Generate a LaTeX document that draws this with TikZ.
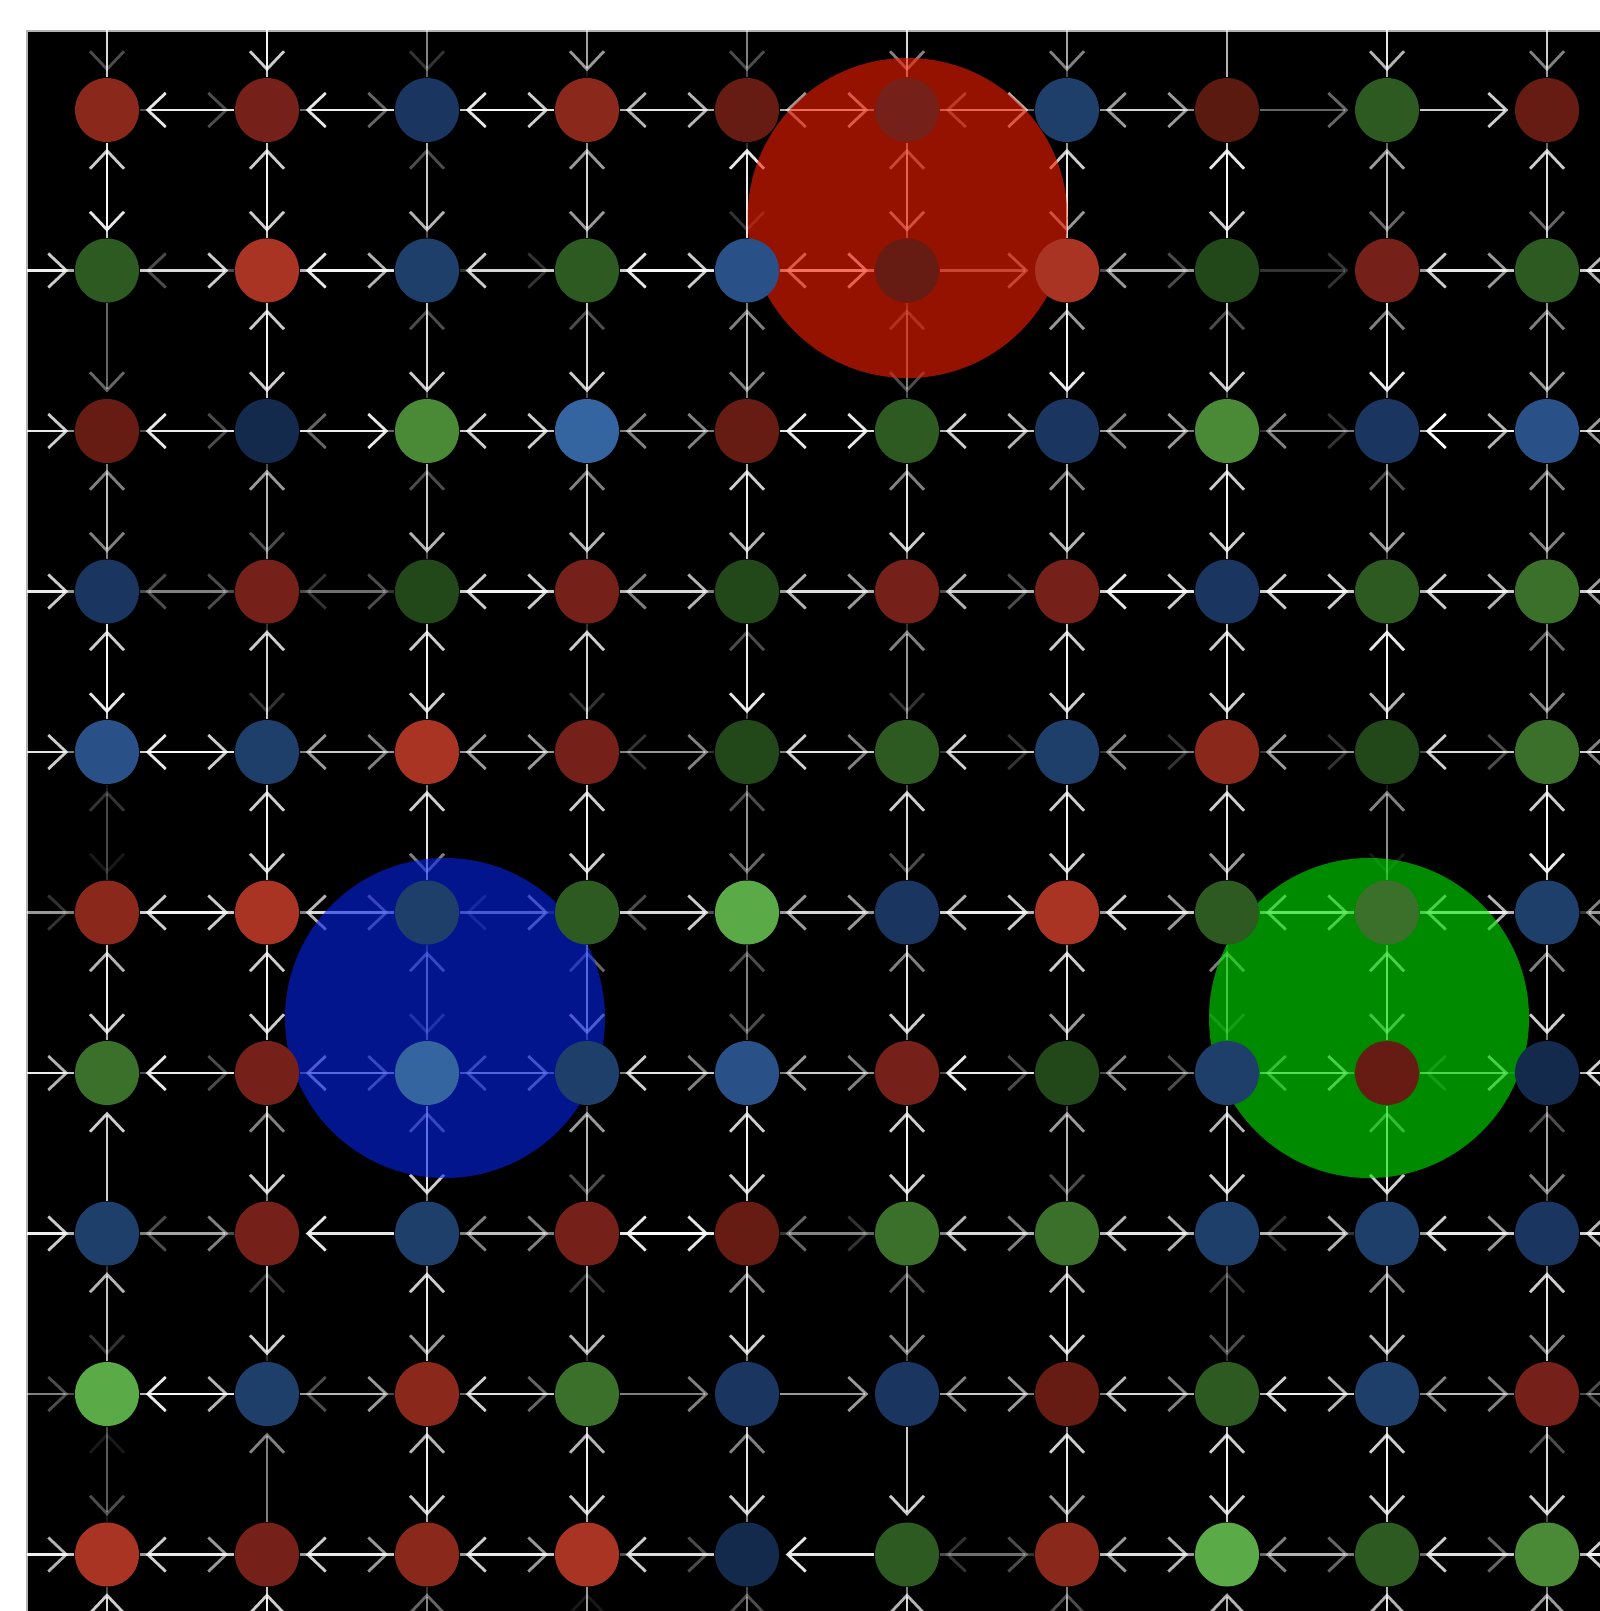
\documentclass[tikz,border=0pt]{standalone}
\usepackage{xcolor}
\usetikzlibrary{arrows.meta}

\pgfdeclarelayer{back}
\pgfdeclarelayer{wires}
\pgfdeclarelayer{blobs}
\pgfsetlayers{back,wires,blobs,main}

% cell colours
\definecolor{R1}{HTML}{A93423}
\definecolor{R2}{HTML}{8A281C}
\definecolor{R3}{HTML}{76201A}
\definecolor{R4}{HTML}{661C12}
\definecolor{R5}{HTML}{5A1A10}
\definecolor{B1}{HTML}{3565A0}
\definecolor{B2}{HTML}{2A5088}
\definecolor{B3}{HTML}{1F3F6B}
\definecolor{B4}{HTML}{1A3560}
\definecolor{B5}{HTML}{132A4C}
\definecolor{G1}{HTML}{5AAA48}
\definecolor{G2}{HTML}{4A8A36}
\definecolor{G3}{HTML}{3A702A}
\definecolor{G4}{HTML}{2C5A20}
\definecolor{G5}{HTML}{22481A}
% agent colours
\definecolor{blobred}{RGB}{250,30,0}
\definecolor{blobblue}{RGB}{5,35,235}
\definecolor{blobgreen}{RGB}{0,230,0}

% one row per line: colour / weight of arrow in from N / E / S / W
\newcommand{\cells}{%
  {R2/3/9/8/0, R3/8/9/8/3, B4/2/9/3/4, R2/6/7/6/8, R4/3/6/9/7, R3/5/4/5/7, B3/5/6/8/7, R5/0/0/9/6, G4/7/0/6/4, R4/5/0/8/8},
  {G4/9/3/0/8, R1/8/9/8/8, B3/7/8/3/7, G4/6/9/3/2, B2/2/7/5/8, R4/6/0/3/8, R1/6/6/6/5, G5/8/0/3/3, R3/4/8/5/2, G4/4/7/5/6},
  {R4/4/9/5/8, B5/8/4/6/3, G2/8/8/3/9, B1/8/5/5/8, R4/5/9/8/5, G4/3/8/5/9, B4/9/5/5/7, G2/8/5/8/6, B4/9/10/3/2, B2/6/6/5/7},
  {B4/5/3/8/8, R3/3/2/8/3, G5/7/8/8/3, R3/7/5/8/8, G5/7/7/3/7, R3/8/7/5/6, R3/7/9/8/3, B4/8/8/8/8, G4/6/8/9/8, G3/5/6/4/7},
  {B2/9/9/2/8, B3/2/6/8/8, R1/8/6/8/5, R3/2/2/8/6, G5/9/8/3/5, G4/2/8/8/5, B3/8/5/8/2, R2/8/6/8/2, G5/7/8/5/2, G3/5/5/8/3},
  {R2/1/8/7/2, R1/8/7/8/8, B3/5/2/5/5, G4/8/3/4/6, G1/4/6/3/8, B4/3/7/5/6, R1/8/8/8/8, G4/6/7/5/6, G3/1/7/7/7, B3/9/5/5/7},
  {G3/8/9/8/7, R3/8/7/5/3, B1/3/5/5/5, B3/7/8/6/6, B2/3/6/8/5, R3/8/9/8/5, G5/6/5/6/3, B3/2/5/7/3, R4/6/2/5/7, B5/8/8/3/7},
  {B3/0/3/7/8, R3/8/9/2/5, B3/8/5/8/0, R3/3/9/2/5, R4/8/4/5/9, G3/8/7/3/2, G3/3/7/7/5, B3/8/2/2/7, B3/8/8/5/7, B4/5/7/8/6},
  {G1/2/9/1/3, B3/8/3/5/7, R2/6/8/7/6, G3/7/0/7/4, B4/8/0/5/5, B4/5/5/0/6, R4/8/7/8/6, G4/3/8/8/5, B3/7/5/8/7, R3/5/3/3/5},
  {R1/3/8/8/7, R3/0/8/8/6, R2/8/8/4/6, R1/8/8/1/6, B5/8/9/3/3, G4/8/2/7/0, R2/6/6/3/3, G1/8/5/7/7, G4/8/8/7/4, G2/8/8/6/4}%
}

\begin{document}
\begin{tikzpicture}[
    dot/.style={circle, inner sep=0pt, minimum size=6.4mm},
    wire/.style={white, line width=0.8pt, -{Straight Barb[length=1.8mm,width=3.4mm]}, shorten >=0.6mm},
    blob/.style={circle, inner sep=0pt, minimum size=3.2cm, fill opacity=0.6}
]
\useasboundingbox (0,0) rectangle (16,-16.11);

% Frame
\begin{pgfonlayer}{back}
\fill[black] (0.27,-0.31) rectangle (16.3,-16.4);
\draw[gray!60, line width=0.4pt] (0.27,-16.4) -- (0.27,-0.31) -- (16.3,-0.31);
\end{pgfonlayer}

% Cells
\foreach \row [count=\ry from 0] in \cells {
  \foreach \fillc/\wn/\we/\ws/\ww [count=\cx from 0] in \row {
    \node[dot, fill=\fillc] (n-\ry-\cx) at ({1.07+1.6*\cx}, {-1.10-1.605*\ry}) {};
  }
}

% Wrap-around ends, outside the frame
\foreach \k in {0,...,9} {
  \coordinate (top-\k) at ({1.07+1.6*\k}, 0.505);
  \coordinate (bot-\k) at ({1.07+1.6*\k}, {-1.10-1.605*10});
  \coordinate (lft-\k) at (-0.53, {-1.10-1.605*\k});
  \coordinate (rgt-\k) at (17.07, {-1.10-1.605*\k});
}

% Arrows
\begin{pgfonlayer}{wires}
\begin{scope}
\clip (0.27,-0.31) rectangle (16,-16.11);
\foreach \row [count=\ry from 0] in \cells {
  \foreach \fillc/\wn/\we/\ws/\ww [count=\cx from 0] in \row {
    \pgfmathtruncatemacro{\rowup}{\ry-1}
    \pgfmathtruncatemacro{\rowdn}{\ry+1}
    \pgfmathtruncatemacro{\collf}{\cx-1}
    \pgfmathtruncatemacro{\colrt}{\cx+1}
    \pgfmathsetmacro{\opn}{\wn/10}
    \pgfmathsetmacro{\ope}{\we/10}
    \pgfmathsetmacro{\ops}{\ws/10}
    \pgfmathsetmacro{\opw}{\ww/10}
    % from above
    \ifnum\ry=0
      \draw[wire, opacity=\opn] (top-\cx) -- (n-\ry-\cx);
      \draw[wire, opacity=\opn] (n-9-\cx) -- (bot-\cx);
    \else
      \draw[wire, opacity=\opn] (n-\rowup-\cx) -- (n-\ry-\cx);
    \fi
    % from below
    \ifnum\ry=9
      \draw[wire, opacity=\ops] (bot-\cx) -- (n-\ry-\cx);
      \draw[wire, opacity=\ops] (n-0-\cx) -- (top-\cx);
    \else
      \draw[wire, opacity=\ops] (n-\rowdn-\cx) -- (n-\ry-\cx);
    \fi
    % from the left
    \ifnum\cx=0
      \draw[wire, opacity=\opw] (lft-\ry) -- (n-\ry-\cx);
      \draw[wire, opacity=\opw] (n-\ry-9) -- (rgt-\ry);
    \else
      \draw[wire, opacity=\opw] (n-\ry-\collf) -- (n-\ry-\cx);
    \fi
    % from the right
    \ifnum\cx=9
      \draw[wire, opacity=\ope] (rgt-\ry) -- (n-\ry-\cx);
      \draw[wire, opacity=\ope] (n-\ry-0) -- (lft-\ry);
    \else
      \draw[wire, opacity=\ope] (n-\ry-\colrt) -- (n-\ry-\cx);
    \fi
  }
}
\end{scope}
\end{pgfonlayer}

% Agents
\begin{pgfonlayer}{blobs}
\node[blob, fill=blobred] (agent-red) at (9.075,-2.18) {};
\node[blob, fill=blobblue] (agent-blue) at (4.45,-10.18) {};
\node[blob, fill=blobgreen] (agent-green) at (13.69,-10.18) {};
\end{pgfonlayer}

\end{tikzpicture}
\end{document}
